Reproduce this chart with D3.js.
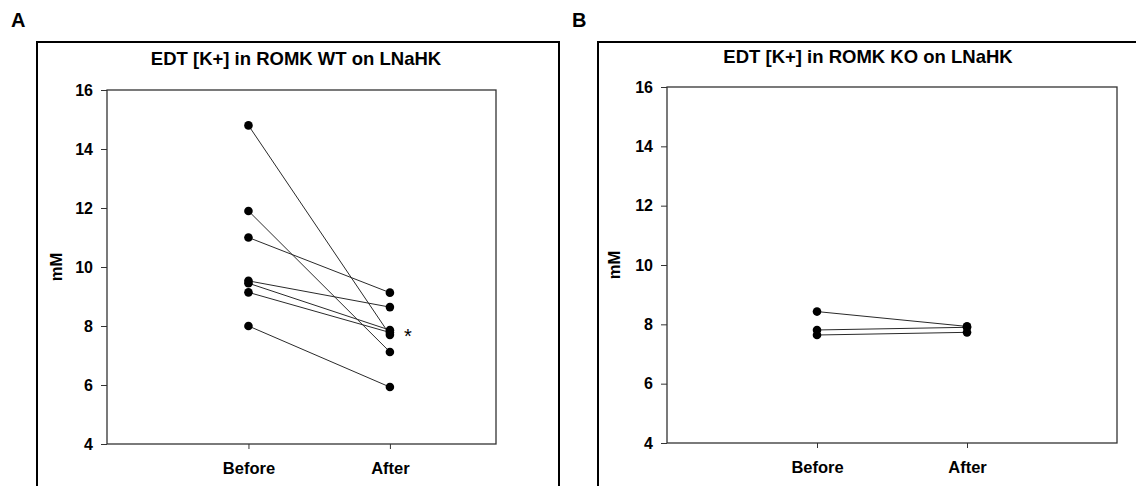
<!DOCTYPE html>
<html>
<head>
<meta charset="utf-8">
<script src="https://cdn.jsdelivr.net/npm/d3@7"></script>
<style>
  html, body { margin: 0; padding: 0; background: #fff; }
  svg { display: block; font-family: "Liberation Sans", Arial, sans-serif; }
</style>
</head>
<body>
<svg id="fig" width="1136" height="486"></svg>
<script>
// Paired EDT [K+] measurements (mM), before and after, per animal
const conditions = ["Before", "After"];
const yTicks = [4, 6, 8, 10, 12, 14, 16];

const wtTitle = "EDT [K+] in ROMK WT on LNaHK";
const wtBefore = [14.8, 11.9, 11.0, 9.53, 9.45, 9.14, 8.0];
const wtAfter  = [7.70, 7.12, 9.13, 8.64, 7.86, 7.78, 5.93];

const koTitle = "EDT [K+] in ROMK KO on LNaHK";
const koBefore = [8.43, 7.81, 7.64];
const koAfter  = [7.93, 7.90, 7.73];

const svg = d3.select("#fig");

function panel(cfg) {
  const g = svg.append("g");

  // panel frame
  g.append("rect")
    .attr("x", cfg.box[0]).attr("y", cfg.box[1])
    .attr("width", cfg.box[2]).attr("height", cfg.box[3])
    .attr("fill", "none").attr("stroke", "#000").attr("stroke-width", 2);

  // panel letter
  g.append("text")
    .attr("x", cfg.letterPos[0]).attr("y", cfg.letterPos[1])
    .attr("font-size", 20).attr("font-weight", "bold")
    .text(cfg.letter);

  // title
  g.append("text")
    .attr("x", cfg.titlePos[0]).attr("y", cfg.titlePos[1])
    .attr("text-anchor", "middle")
    .attr("font-size", 18.5).attr("font-weight", "bold")
    .text(cfg.title);

  const [x0, y0, x1, y1] = cfg.plot;
  const y = d3.scaleLinear().domain([4, 16]).range([y1, y0]);
  const x = d3.scaleLinear().domain([0, cfg.xMax]).range([x0, x1]);
  const xc = c => x(conditions.indexOf(c) + 1);

  // y axis
  const ya = g.append("g")
    .attr("transform", `translate(${x0},0)`)
    .call(d3.axisLeft(y).tickValues(yTicks).tickSize(6).tickPadding(8).tickFormat(d3.format("d")));
  ya.select(".domain").remove();
  ya.selectAll("line").attr("stroke", "#333");
  ya.selectAll("text")
    .attr("font-size", 16).attr("font-weight", "bold").attr("fill", "#000")
    .attr("font-family", "Liberation Sans, Arial, sans-serif");

  // x axis
  const xa = g.append("g")
    .attr("transform", `translate(0,${y1})`)
    .call(d3.axisBottom(d3.scaleOrdinal().domain(conditions).range(conditions.map(xc)))
      .tickSize(5).tickPadding(13));
  xa.select(".domain").remove();
  xa.selectAll("line").attr("stroke", "#333");
  xa.selectAll("text")
    .attr("font-size", 16.5).attr("font-weight", "bold").attr("fill", "#000")
    .attr("font-family", "Liberation Sans, Arial, sans-serif");

  // plot frame
  g.append("rect")
    .attr("x", x0).attr("y", y0)
    .attr("width", x1 - x0).attr("height", y1 - y0)
    .attr("fill", "none").attr("stroke", "#333").attr("stroke-width", 1.3);

  // y axis label
  g.append("text")
    .attr("transform", `translate(${cfg.yLabelX},${(y0 + y1) / 2}) rotate(-90)`)
    .attr("text-anchor", "middle")
    .attr("font-size", 16.5).attr("font-weight", "bold")
    .text("mM");

  // paired lines
  const pairs = cfg.before.map((b, i) => [b, cfg.after[i]]);
  g.append("g").selectAll("line").data(pairs).join("line")
    .attr("x1", xc("Before")).attr("x2", xc("After"))
    .attr("y1", d => y(d[0])).attr("y2", d => y(d[1]))
    .attr("stroke", "#2a2a2a").attr("stroke-width", 1);

  // points
  const pts = [];
  cfg.before.forEach(v => pts.push({c: "Before", v}));
  cfg.after.forEach(v => pts.push({c: "After", v}));
  g.append("g").selectAll("circle").data(pts).join("circle")
    .attr("cx", d => xc(d.c)).attr("cy", d => y(d.v))
    .attr("r", 4.3).attr("fill", "#000");

  if (cfg.star) {
    g.append("text")
      .attr("x", xc("After") + 18).attr("y", y(d3.mean(cfg.after.filter(v => v > 7.5 && v < 8))) + 11)
      .attr("text-anchor", "middle")
      .attr("font-size", 20)
      .text("*");
  }
}

panel({
  letter: "A", letterPos: [11, 27],
  box: [37, 42, 522, 470],
  title: wtTitle, titlePos: [296, 65],
  plot: [107, 90, 496, 444], xMax: 2.75,
  yLabelX: 62,
  before: wtBefore, after: wtAfter, star: true
});

panel({
  letter: "B", letterPos: [572, 27],
  box: [598, 42, 560, 470],
  title: koTitle, titlePos: [868, 63],
  plot: [667, 87, 1117, 443], xMax: 3,
  yLabelX: 620,
  before: koBefore, after: koAfter, star: false
});
</script>
</body>
</html>
